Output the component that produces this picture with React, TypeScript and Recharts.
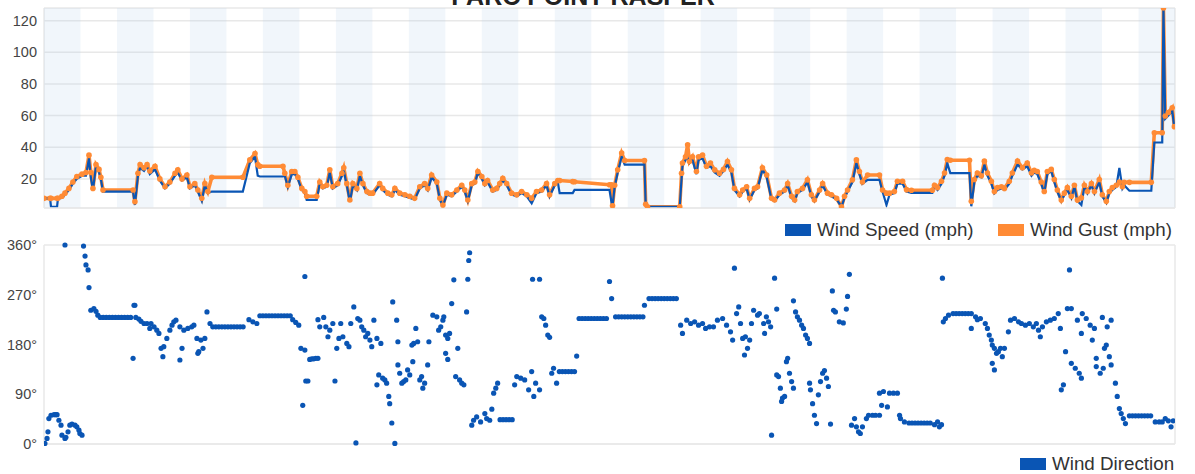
import { LineChart, Line, ScatterChart, Scatter, XAxis, YAxis, CartesianGrid, ReferenceArea } from 'recharts'

const BLUE = '#0a55b4'
const ORANGE = '#ff8b35'
const BAND = '#b9d1ea'
const GRID = '#e8e8e8'
const FONT = '"Liberation Sans", Arial, Helvetica, sans-serif'

// hours since the start of the record
const hours = [
  0, 2.0, 2.3, 4.3, 4.6, 5.9, 6.9, 8.2, 9.5, 10.8,
  12.5, 13.8, 14.8, 15.4, 16.1, 17.1, 18.1, 18.7, 19.4, 29.3,
  29.9, 30.9, 31.6, 32.9, 33.9, 34.8, 36.5, 38.1, 39.8, 41.4,
  43.1, 44.0, 45.4, 47.0, 48.0, 49.6, 50.6, 51.9, 52.9, 53.9,
  55.2, 65.4, 67.7, 69.4, 70.3, 71.0, 78.6, 79.2, 80.2, 81.5,
  82.5, 83.5, 84.8, 85.8, 86.4, 89.7, 90.7, 91.7, 93.0, 94.0,
  95.0, 96.6, 98.0, 98.6, 99.6, 100.6, 101.6, 102.9, 103.9, 104.9,
  106.2, 107.2, 108.1, 110.4, 111.4, 113.1, 114.4, 115.4, 117.0, 118.7,
  120.3, 121.9, 123.6, 125.2, 126.2, 127.5, 129.2, 130.2, 131.2, 132.5,
  134.1, 135.8, 137.4, 138.4, 139.4, 140.7, 141.7, 142.7, 144.0, 145.0,
  145.9, 147.6, 148.9, 149.9, 150.9, 152.2, 153.8, 155.5, 157.1, 158.8,
  160.4, 162.0, 163.7, 165.3, 166.3, 168.0, 169.0, 169.6, 173.9, 174.5,
  186.0, 186.7, 187.0, 187.7, 188.7, 190.0, 191.0, 197.5, 197.9, 198.5,
  209.1, 209.7, 210.0, 211.0, 211.7, 212.3, 213.3, 214.6, 215.3, 216.6,
  217.9, 219.2, 220.6, 222.2, 223.5, 224.8, 226.1, 227.1, 228.8, 229.8,
  231.1, 232.1, 233.7, 234.7, 236.3, 237.7, 239.3, 240.3, 241.9, 243.6,
  244.6, 245.9, 246.9, 247.8, 249.5, 251.1, 252.4, 253.4, 255.1, 256.1,
  257.7, 259.0, 260.7, 262.3, 263.3, 264.3, 265.9, 267.2, 268.2, 269.2,
  270.9, 274.8, 275.8, 277.1, 278.1, 279.7, 280.7, 282.4, 283.7, 285.3,
  292.2, 292.9, 293.9, 295.2, 296.2, 297.1, 298.1, 304.4, 305.0, 306.0,
  307.0, 308.3, 309.3, 310.3, 311.6, 312.6, 313.6, 314.9, 315.9, 317.5,
  318.5, 320.2, 321.8, 323.4, 324.8, 325.7, 326.7, 328.0, 329.0, 330.0,
  331.3, 332.3, 333.3, 334.6, 335.6, 336.6, 337.9, 338.9, 339.9, 341.2,
  342.2, 343.2, 344.5, 345.5, 347.1, 348.1, 349.4, 350.4, 351.4, 352.7,
  353.7, 354.7, 355.3, 357.0, 364.2, 365.2, 367.8, 368.2, 368.8, 369.8,
  371.1, 371.8,
]

const speedMph = [
  7.7, 7.7, 2.4, 2.4, 7.7, 8, 10, 13, 17, 20,
  22, 22, 33, 21, 13, 28, 24, 20, 12, 12,
  3.5, 22, 27, 25, 28, 23, 26, 19, 14, 17,
  22, 24, 19, 21, 14, 16, 12, 6, 16, 11,
  12, 12, 30, 34, 22, 21.5, 21.5, 22, 15, 23,
  23, 20, 13, 11, 6.7, 6.7, 17, 14, 15, 24,
  14, 16, 22, 25, 16, 5.5, 16, 13, 22, 16,
  11, 10, 10, 16, 13, 10, 9, 13, 10, 9,
  8, 7, 14, 16, 13, 21, 17, 7, 3, 10,
  9, 12, 15, 12, 6, 16, 17, 24, 20, 16,
  18, 12, 13, 16, 19, 16, 10, 9, 11, 9,
  4.6, 11, 12, 16, 9, 16, 18, 11, 11, 13,
  13, 4.6, 3, 15, 24, 34, 29, 29, 4, 2.4,
  2.4, 20, 28, 32, 33, 30, 32, 23, 32, 33,
  27, 28, 24, 22, 25, 29, 24, 13, 9, 12,
  14, 7, 13, 14, 26, 21, 7, 6, 10, 12,
  16, 8, 6, 11, 13, 18, 9, 6, 12, 16,
  10, 9, 7, 2.4, 8, 12, 18, 30, 23, 17,
  19.4, 19.4, 12, 3.5, 10, 11, 17, 17, 12, 11.1,
  11.1, 15, 13, 17, 22, 30, 23.7, 23.7, 2.7, 18,
  22, 21, 29, 22, 17, 11, 13, 14, 13, 17,
  22, 29, 26, 28, 22, 24, 23, 17, 11, 23,
  25, 18, 12, 6, 10, 13, 8, 15, 6, 3.5,
  15, 11, 16, 11, 18, 9, 5, 11, 13, 15,
  27, 14, 16, 12.5, 12.5, 43, 43, 128, 58, 60,
  63, 52,
]

const gustMph = [
  7.7, 7.7, 7.7, 7.7, 7.7, 9, 11, 14, 18, 21.5,
  23, 24, 35, 24, 14, 29, 26, 21, 13, 13,
  5.6, 23.6, 29, 27, 29, 25, 28, 20, 15, 18,
  23.6, 25.7, 20, 22.5, 15, 17, 13, 7.7, 17, 12,
  21, 21, 32, 36, 29, 28, 28, 23.6, 16, 24.7,
  24.7, 21, 14, 12, 9, 9, 18, 15, 16, 25.7,
  15, 17, 23.6, 27, 17, 6.7, 17, 14, 23.6, 17,
  12, 11, 11, 17, 14, 11, 10, 14, 11, 10,
  9, 7.7, 15, 17, 14, 22.5, 18, 7.7, 3.5, 11,
  10, 13, 16, 13, 6.7, 17, 18, 24.7, 21.5, 17,
  19, 13, 14, 17, 20.4, 17, 11, 10, 12, 10,
  7.7, 12, 13, 17, 10, 17, 19, 19, 18.3, 18.2,
  16.3, 16.2, 3, 16, 25.7, 36.3, 31.6, 31.6, 4, 2.4,
  2.4, 23.6, 30, 34, 41.6, 31, 34, 24.7, 34, 35,
  28, 30, 25.7, 23.6, 26, 31, 25.7, 14, 10, 13,
  15, 7.7, 14, 15, 27, 22.5, 7.7, 6.7, 11, 13,
  17, 9, 6.7, 12, 14, 19.4, 10, 6.7, 13, 17,
  11, 10, 7.7, 2.4, 9, 13, 19.4, 32, 24.7, 18,
  22.5, 22.5, 13, 11, 11, 12, 18.5, 18.5, 13.2, 12.8,
  12.8, 16, 14.5, 18.5, 23.7, 32.2, 31.8, 31.8, 5.8, 19.6,
  23.7, 22, 31.2, 23.7, 18.5, 12, 14.5, 15, 14, 18.5,
  23.7, 31.2, 27, 30, 23.7, 25.5, 24.7, 18, 12, 24.7,
  26, 19.6, 13, 6.6, 11, 14.5, 9, 16, 6.6, 8,
  16, 12, 17, 12, 19.6, 10, 5.8, 12, 14.5, 16,
  18, 15, 17.8, 17.8, 17.8, 49.2, 49.2, 128, 59.7, 62,
  65, 53,
]

// [hour, degrees]
const windDirection: [number, number][] = [
  [0.3, 1], [1.0, 10], [1.3, 22], [1.6, 46], [2.3, 52], [3.3, 53], [3.9, 53], [4.3, 53], [4.9, 43], [5.6, 34],
  [5.9, 16], [6.9, 10], [6.9, 360], [7.2, 12], [7.9, 22], [8.5, 34], [9.2, 36], [10.2, 34], [10.8, 31], [11.5, 25],
  [11.8, 19], [12.5, 16], [13.0, 358], [13.5, 340], [13.8, 324], [14.5, 315], [14.8, 283], [15.4, 242], [16.4, 245], [17.1, 240],
  [17.7, 233], [18.5, 229], [19.5, 229], [20.5, 229], [21.5, 229], [22.5, 229], [23.5, 229], [24.5, 229], [25.5, 229], [26.5, 229],
  [27.5, 229], [28.5, 229], [29.3, 155], [29.6, 251], [29.9, 251], [30.2, 229], [31.2, 226], [31.9, 222], [32.9, 218], [33.9, 218],
  [34.8, 209], [35.2, 218], [36.2, 212], [37.1, 206], [37.8, 200], [38.5, 173], [39.1, 158], [39.4, 176], [40.4, 191], [41.4, 206],
  [42.1, 215], [42.7, 221], [43.4, 224], [44.7, 212], [44.7, 152], [45.4, 173], [46.0, 206], [47.3, 209], [48.6, 212], [49.3, 215],
  [50.3, 191], [50.6, 164], [50.9, 167], [51.6, 188], [52.3, 173], [52.9, 191], [53.6, 239], [54.6, 218],
  [55.5, 212], [56.5, 212], [57.5, 212], [58.5, 212], [59.5, 212], [60.5, 212], [61.5, 212], [62.5, 212], [63.5, 212], [64.5, 212], [65.5, 212],
  [67.4, 225], [68.7, 221], [70.0, 218],
  [71, 232], [72, 232], [73, 232], [74, 232], [75, 232], [76, 232], [77, 232], [78, 232], [79, 232], [80, 232], [81, 232],
  [81.8, 225], [82.8, 220], [83.8, 215], [84.5, 173], [85.1, 70], [85.8, 303], [85.8, 170], [86.1, 114], [86.8, 114], [87.4, 153],
  [88.1, 154], [88.7, 154], [89.4, 155], [90.1, 155], [90.1, 225], [90.7, 212], [92.0, 229], [92.7, 212], [93.4, 194], [94.0, 206],
  [95.0, 218], [95.7, 114], [96.3, 173], [97.0, 191], [97.6, 218], [98.3, 194], [99.6, 182], [100.3, 176], [100.9, 218], [101.9, 248],
  [102.6, 2], [103.2, 227], [103.9, 224], [104.5, 212], [105.2, 206], [105.8, 194], [106.5, 200], [107.2, 188], [107.8, 176], [108.5, 224],
  [109.5, 191], [109.5, 107], [110.1, 125], [110.8, 182], [111.4, 119], [112.1, 116], [112.7, 110], [113.4, 86], [113.7, 73], [114.4, 38],
  [114.7, 257], [115.4, 1], [116.0, 224], [116.4, 185], [116.4, 143], [117.0, 128], [117.7, 110], [118.3, 113], [119.0, 116], [119.6, 134],
  [120.3, 125], [121.0, 179], [121.3, 149], [121.6, 182], [122.3, 209], [122.9, 185], [123.6, 116], [124.2, 122], [124.6, 101], [125.2, 110],
  [126.2, 143], [126.6, 185], [127.9, 233], [129.2, 230], [129.8, 206], [130.5, 212], [131.2, 224], [131.5, 230], [132.1, 197], [132.1, 164],
  [132.8, 191], [132.8, 153], [133.4, 200], [134.1, 254], [134.8, 297], [135.4, 122], [136.1, 173], [136.7, 116], [137.4, 110], [138.1, 107],
  [139.0, 239], [139.4, 298], [139.7, 332], [140.0, 346], [140.7, 34], [141.3, 43], [142.3, 49], [143.6, 40], [145.0, 55], [145.6, 46],
  [146.6, 43], [147.3, 63], [147.9, 92], [148.6, 101], [149.2, 110], [150, 44], [151, 44], [152, 44], [153, 44], [154, 44],
  [154.8, 107], [155.5, 122], [156.8, 119], [158.1, 116], [159.4, 98], [160.4, 131], [160.7, 298], [161.1, 86], [161.7, 110], [163.0, 98],
  [163.0, 298], [163.7, 230], [164.4, 227], [165.0, 215], [165.7, 197], [166.3, 193], [167.0, 128], [167.6, 137], [168.6, 110],
  [169.5, 131], [170.5, 131], [171.5, 131], [172.5, 131], [173.5, 131], [174.5, 131], [175.2, 159],
  [176, 227], [177, 227], [178, 227], [179, 227], [180, 227], [181, 227], [182, 227], [183, 227], [184, 227], [185, 227],
  [186.0, 294], [186.7, 263],
  [188, 230], [189, 230], [190, 230], [191, 230], [192, 230], [193, 230], [194, 230], [195, 230], [196, 230], [197, 230],
  [197.5, 251],
  [199, 263], [200, 263], [201, 263], [202, 263], [203, 263], [204, 263], [205, 263], [206, 263], [207, 263], [208, 263],
  [209.4, 215], [210.0, 200], [211.4, 224], [212.7, 218], [214.0, 221], [215.3, 215], [216.6, 218], [217.6, 209], [218.9, 212], [220.2, 212],
  [221.5, 224], [223.2, 227], [224.5, 215], [225.8, 203], [226.5, 188], [227.1, 318], [227.8, 236], [228.5, 248], [229.1, 218], [229.8, 191],
  [230.4, 161], [230.7, 194], [231.4, 173], [232.1, 188], [232.7, 218], [233.4, 242], [234.7, 233], [235.3, 236], [236.7, 218], [237.0, 200],
  [237.6, 230], [238.3, 221], [239.0, 212], [239.3, 16], [240.3, 300], [241.0, 244], [241.0, 125], [241.6, 122], [242.2, 101], [242.6, 77],
  [242.9, 83], [243.6, 86], [244.2, 149], [244.6, 155], [245.2, 128], [245.9, 113], [246.5, 101], [246.5, 259], [247.2, 239], [247.8, 230],
  [248.5, 224], [249.2, 215], [249.8, 209], [250.5, 197], [251.1, 191], [251.8, 182], [251.8, 110], [252.1, 98], [252.8, 73], [253.4, 52],
  [254.1, 37], [254.7, 89], [255.4, 113], [256.1, 128], [256.7, 133], [257.4, 119], [258.0, 104], [258.7, 36], [259.3, 277], [259.7, 242],
  [260.3, 239], [261.6, 221], [262.9, 219], [263.9, 244], [264.3, 267], [264.9, 307], [265.6, 34], [266.6, 46], [267.2, 31], [267.9, 22],
  [268.5, 19], [269.2, 31], [270.5, 46], [271.2, 52], [272.5, 52], [273.5, 52], [274.8, 52], [274.8, 92], [275.5, 70], [276.1, 95],
  [277.4, 67], [278.1, 92], [279.4, 92], [280.7, 92], [281.4, 52], [281.7, 46], [283.0, 40],
  [284.5, 38], [285.5, 38], [286.5, 38], [287.5, 38], [288.5, 38], [289.5, 38], [290.5, 38], [291.5, 38],
  [292.9, 35], [293.9, 40], [294.5, 31], [295.2, 35], [295.5, 300], [295.8, 221], [296.5, 227], [297.5, 233],
  [299, 236], [300, 236], [301, 236], [302, 236], [303, 236], [304, 236], [305, 236],
  [305.0, 209], [306.4, 230], [307.0, 225], [308.0, 227], [309.6, 218], [310.3, 209], [310.9, 197], [311.6, 188], [311.9, 179], [311.9, 146],
  [312.6, 173], [312.6, 134], [313.3, 164], [313.9, 167], [314.6, 173], [315.2, 158], [315.9, 173], [317.2, 203], [317.9, 224], [319.2, 227],
  [320.5, 221], [321.5, 218], [322.8, 215], [324.1, 218], [325.4, 212], [326.4, 218], [327.1, 206], [327.7, 194], [328.4, 212], [329.7, 221],
  [331.0, 224], [332.3, 227], [333.6, 236], [334.3, 209], [334.6, 98], [335.3, 107], [336.0, 167], [336.6, 245], [337.3, 315], [337.9, 245],
  [337.9, 146], [339.2, 137], [339.9, 224], [340.5, 128], [341.2, 119], [341.2, 200], [341.5, 236], [342.8, 227], [344.1, 215], [344.8, 188],
  [345.5, 209], [346.1, 155], [346.1, 140], [347.4, 128], [348.1, 229], [348.4, 137], [348.8, 173], [349.4, 179], [349.7, 212], [350.4, 158],
  [351.0, 224], [351.0, 143], [352.4, 110], [353.0, 86], [353.7, 64], [354.3, 55], [355.0, 46], [355.7, 37],
  [357, 51], [358, 51], [359, 51], [360, 51], [361, 51], [362, 51], [363, 51], [364, 51],
  [365.5, 40], [366.8, 40], [367.8, 40], [368.8, 46], [369.8, 42], [370.7, 31], [371.4, 42],
]

const speedTicks = [20, 40, 60, 80, 100, 120]
const dirTicks = [0, 90, 180, 270, 360]
const compassLabels = ['N', 'E', 'S', 'W', 'N']
const gridHours = [0, 36, 72, 108, 144, 180, 216, 252, 288, 324, 360]
const nightStarts = [0, 24, 48, 72, 96, 120, 144, 168, 192, 216, 240, 264, 288, 312, 336, 360]
const HOUR_MAX = 372

const windRows = hours.map((h, i) => ({ h, speed: speedMph[i], gust: gustMph[i] }))
const dirRows = windDirection.map(([h, deg]) => ({ h, deg }))

const tickStyle = { fontSize: 14.5, fill: '#444', fontFamily: FONT }

const DirDot = (p: any) => <circle cx={p.cx} cy={p.cy} r={2.6} fill={BLUE} />

function LegendItem({ x, y, color, label }: { x: number; y: number; color: string; label: string }) {
  return (
    <div style={{ position: 'absolute', left: x, top: y, height: 18, display: 'flex', alignItems: 'center', fontFamily: FONT, fontSize: 18.8, lineHeight: '18px', color: '#333', whiteSpace: 'nowrap' }}>
      <div style={{ width: 26, height: 12, background: color, marginRight: 6 }} />
      <span>{label}</span>
    </div>
  )
}

export default function App() {
  const bands = nightStarts.map((s) => (
    <ReferenceArea key={s} x1={s} x2={Math.min(s + 12, HOUR_MAX)} fill={BAND} fillOpacity={0.2} stroke="none" ifOverflow="hidden" />
  ))
  return (
    <div style={{ position: 'absolute', left: 0, top: 0, width: 1195, height: 474, overflow: 'hidden', background: '#fff' }}>
      <div style={{ position: 'absolute', left: 0, top: 0 }}>
        <LineChart width={1195} height={216} data={windRows} margin={{ top: 8, right: 20, bottom: 0, left: 0 }}>
          <CartesianGrid stroke={GRID} strokeWidth={1.5} />
          {bands}
          <XAxis dataKey="h" type="number" domain={[0, HOUR_MAX]} ticks={gridHours} tick={false} tickLine={false}
            axisLine={{ stroke: GRID, strokeWidth: 1.5 }} height={8} allowDataOverflow />
          <YAxis domain={[1.6, 128]} ticks={speedTicks} interval={0} width={44} axisLine={false} tickLine={false}
            tick={tickStyle} tickMargin={1} allowDataOverflow />
          <Line dataKey="gust" type="linear" stroke={ORANGE} strokeWidth={3.6} dot={false} isAnimationActive={false} />
          <Line dataKey="speed" type="linear" stroke={BLUE} strokeWidth={2.2} dot={false} isAnimationActive={false} />
          <Line dataKey="gust" type="linear" stroke="none" legendType="none"
            dot={{ r: 2.8, fill: ORANGE, stroke: 'none' }} isAnimationActive={false} />
        </LineChart>
      </div>

      <svg width={1195} height={12} style={{ position: 'absolute', left: 0, top: 0 }}>
        <text x={583} y={5} textAnchor="middle" fontFamily={FONT} fontSize={25} fontWeight="bold" fill="#222">PARC POINT RASPER</text>
      </svg>

      <LegendItem x={785} y={221} color={BLUE} label="Wind Speed (mph)" />
      <LegendItem x={998} y={221} color={ORANGE} label="Wind Gust (mph)" />

      <div style={{ position: 'absolute', left: 0, top: 232 }}>
        <ScatterChart width={1195} height={220} margin={{ top: 13, right: 0, bottom: 0, left: 0 }}>
          <CartesianGrid stroke={GRID} strokeWidth={1.5} />
          {bands}
          <XAxis dataKey="h" type="number" domain={[0, HOUR_MAX]} ticks={gridHours} tick={false} tickLine={false}
            axisLine={{ stroke: GRID, strokeWidth: 1.5 }} height={8} allowDataOverflow />
          <YAxis yAxisId="deg" dataKey="deg" type="number" domain={[0, 360]} ticks={dirTicks} interval={0} width={44}
            axisLine={false} tickLine={false} tick={tickStyle} tickMargin={1} tickFormatter={(v: number) => `${v}°`} />
          <YAxis yAxisId="compass" orientation="right" type="number" domain={[0, 360]} ticks={dirTicks} interval={0} width={20}
            axisLine={false} tickLine={false} tick={tickStyle} tickMargin={2}
            tickFormatter={(v: number) => compassLabels[dirTicks.indexOf(v)]} />
          <Scatter yAxisId="deg" data={dirRows} dataKey="deg" fill={BLUE} shape={DirDot} isAnimationActive={false} />
        </ScatterChart>
      </div>

      <LegendItem x={1020} y={455} color={BLUE} label="Wind Direction" />
    </div>
  )
}
